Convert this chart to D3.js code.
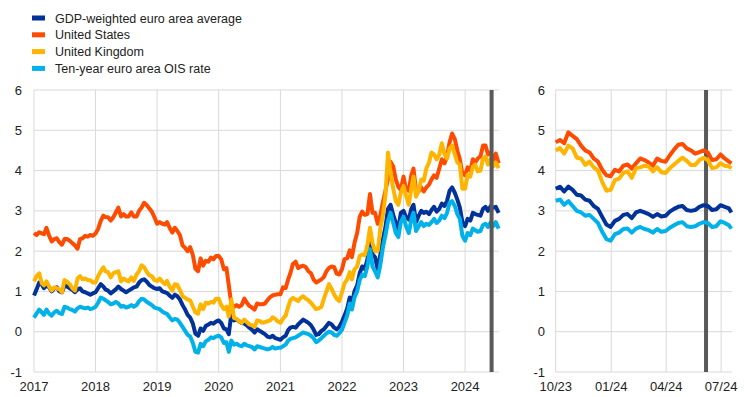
<!DOCTYPE html>
<html><head><meta charset="utf-8">
<script src="https://cdn.jsdelivr.net/npm/d3@7"></script>
<style>body{margin:0;background:#fff}svg{display:block}text{font-family:"Liberation Sans",Arial,sans-serif;fill:#222}</style>
</head><body><svg id="c" width="744" height="397"></svg>
<script>
// ---- DATA ----
const seriesNames = ["GDP-weighted euro area average","United States","United Kingdom","Ten-year euro area OIS rate"];
const seriesColors = ["#003299","#ff4b00","#ffb400","#00b1ea"];
const yTicks = [-1,0,1,2,3,4,5,6];
const leftTickLabels = ["2017","2018","2019","2020","2021","2022","2023","2024"];
const rightTickLabels = ["10/23","01/24","04/24","07/24"];
const markerDate = "2024-06-06";

// left panel: semi-monthly observations (1st and 16th of each month, 2017-01 .. 2024-06), then 2024-07-01 and 2024-07-18
const usLong = [
 2.45,2.40,2.47,2.44,2.42,2.58,2.38,2.24,2.30,2.32,2.22,2.16,2.30,2.30,2.26,2.20,2.14,2.06,2.30,2.32,2.38,2.36,2.40,2.38,
 2.44,2.55,2.75,2.88,2.85,2.84,2.76,2.84,2.96,3.08,2.86,2.92,2.86,2.86,2.96,2.86,2.86,3.00,3.08,3.20,3.14,3.06,2.98,2.84,
 2.68,2.72,2.68,2.66,2.72,2.58,2.46,2.58,2.50,2.40,2.14,2.08,2.00,2.10,1.90,1.56,1.50,1.82,1.64,1.76,1.74,1.84,1.80,1.88,
 1.88,1.80,1.55,1.58,1.15,0.68,0.62,0.66,0.62,0.66,0.82,0.72,0.64,0.60,0.55,0.70,0.68,0.68,0.70,0.78,0.86,0.90,0.92,0.93,
 0.93,1.10,1.08,1.30,1.45,1.68,1.74,1.58,1.62,1.64,1.60,1.50,1.45,1.30,1.22,1.26,1.30,1.36,1.50,1.58,1.62,1.60,1.44,1.42,
 1.55,1.80,1.82,2.02,1.85,2.20,2.45,2.85,2.98,2.90,2.92,3.42,2.95,2.95,2.68,2.88,3.22,3.50,3.80,4.22,4.10,3.78,3.60,3.52,
 3.85,3.52,3.50,3.88,4.05,3.50,3.48,3.58,3.48,3.58,3.65,3.78,3.88,3.82,4.05,4.28,4.18,4.35,4.70,4.92,4.78,4.50,4.28,3.92,
 3.88,4.08,4.00,4.28,4.20,4.30,4.35,4.62,4.62,4.40,4.45,4.25,4.42,4.18];
const ukLong = [
 1.25,1.38,1.45,1.20,1.15,1.25,1.12,1.02,1.10,1.08,1.05,0.98,1.28,1.24,1.18,1.08,1.02,1.32,1.38,1.30,1.32,1.28,1.28,1.22,
 1.22,1.38,1.50,1.60,1.50,1.48,1.35,1.45,1.48,1.50,1.25,1.32,1.28,1.25,1.35,1.26,1.42,1.50,1.65,1.60,1.48,1.40,1.38,1.28,
 1.26,1.32,1.24,1.18,1.26,1.12,1.02,1.18,1.16,1.04,0.88,0.84,0.80,0.78,0.62,0.48,0.45,0.68,0.56,0.72,0.70,0.74,0.72,0.82,
 0.82,0.66,0.56,0.62,0.38,0.80,0.34,0.32,0.26,0.22,0.30,0.24,0.18,0.16,0.12,0.28,0.26,0.22,0.24,0.26,0.28,0.36,0.32,0.26,
 0.22,0.32,0.40,0.62,0.78,0.84,0.80,0.76,0.84,0.88,0.82,0.78,0.72,0.64,0.56,0.58,0.62,0.82,1.00,1.18,1.06,0.92,0.82,0.76,
 0.98,1.20,1.30,1.48,1.30,1.55,1.62,1.88,1.92,1.90,2.15,2.58,2.20,2.00,2.00,2.55,2.90,3.40,4.45,3.95,3.55,3.25,3.15,3.45,
 3.62,3.38,3.15,3.55,3.85,3.35,3.50,3.78,3.75,4.05,4.20,4.45,4.40,4.28,4.40,4.68,4.40,4.30,4.55,4.62,4.40,4.20,4.15,3.55,
 3.55,3.90,3.85,4.10,4.15,3.98,4.00,4.30,4.35,4.15,4.30,4.10,4.20,4.06];
const eaLong = [
 0.90,1.05,1.22,1.18,1.08,1.15,1.10,1.00,1.08,1.10,1.00,0.98,1.15,1.12,1.08,1.04,0.98,1.05,1.08,1.00,0.98,0.95,0.92,0.95,
 0.98,1.08,1.18,1.12,1.05,1.02,0.95,1.00,1.05,1.12,1.06,1.02,0.98,1.02,1.06,1.10,1.12,1.22,1.28,1.30,1.24,1.16,1.12,1.08,
 1.06,1.08,1.00,0.98,0.96,0.90,0.84,0.92,0.88,0.80,0.66,0.55,0.42,0.35,0.20,-0.05,-0.10,0.08,0.02,0.14,0.18,0.22,0.20,0.25,
 0.28,0.22,0.08,0.06,-0.06,0.45,0.28,0.30,0.26,0.22,0.20,0.16,0.10,0.05,-0.02,0.06,0.02,-0.02,-0.06,-0.12,-0.14,-0.10,-0.16,-0.18,
 -0.20,-0.14,-0.10,0.04,0.10,0.12,0.10,0.18,0.24,0.30,0.26,0.22,0.16,0.06,-0.08,-0.06,0.02,0.06,0.14,0.22,0.18,0.10,0.06,0.12,
 0.25,0.40,0.58,0.85,0.70,1.00,1.15,1.45,1.62,1.55,1.80,2.35,1.92,1.85,1.55,1.90,2.30,2.60,3.05,3.15,2.90,2.70,2.55,2.95,
 3.00,2.85,2.78,3.05,3.15,2.72,2.88,3.00,2.95,2.98,2.92,3.02,3.10,2.98,3.05,3.18,3.12,3.25,3.50,3.58,3.45,3.28,3.08,2.72,
 2.62,2.80,2.76,2.95,2.92,2.90,2.88,3.05,3.10,3.00,3.12,3.08,3.10,2.95];
const oisLong = [
 0.35,0.45,0.55,0.48,0.42,0.55,0.45,0.40,0.48,0.52,0.46,0.44,0.62,0.60,0.56,0.54,0.50,0.58,0.62,0.60,0.58,0.60,0.56,0.58,
 0.62,0.72,0.85,0.82,0.78,0.74,0.68,0.70,0.74,0.70,0.62,0.64,0.60,0.62,0.66,0.62,0.66,0.76,0.82,0.80,0.74,0.70,0.66,0.60,
 0.58,0.56,0.50,0.46,0.44,0.36,0.28,0.32,0.30,0.22,0.12,0.02,-0.08,-0.12,-0.28,-0.50,-0.52,-0.30,-0.36,-0.24,-0.20,-0.14,-0.16,-0.12,
 -0.10,-0.14,-0.28,-0.26,-0.50,-0.22,-0.32,-0.30,-0.34,-0.36,-0.30,-0.34,-0.36,-0.38,-0.44,-0.36,-0.38,-0.40,-0.42,-0.44,-0.42,-0.38,-0.42,-0.40,
 -0.40,-0.36,-0.32,-0.22,-0.18,-0.16,-0.14,-0.10,-0.06,-0.02,-0.04,-0.06,-0.10,-0.16,-0.26,-0.22,-0.16,-0.10,-0.04,0.00,-0.02,-0.08,-0.10,-0.04,
 0.05,0.22,0.40,0.70,0.55,0.85,1.00,1.28,1.42,1.38,1.62,2.05,1.62,1.50,1.35,1.65,2.10,2.40,2.75,2.95,2.70,2.45,2.35,2.72,
 2.85,2.62,2.45,2.78,2.95,2.50,2.62,2.72,2.62,2.68,2.65,2.72,2.80,2.70,2.76,2.88,2.82,2.95,3.20,3.24,3.12,2.92,2.80,2.38,
 2.26,2.45,2.40,2.56,2.52,2.48,2.50,2.65,2.68,2.60,2.72,2.62,2.72,2.56];

// right panel: weekly observations from 2023-10-01 to 2024-07-14, then 2024-07-18
const eaShort  = [3.55,3.60,3.48,3.60,3.52,3.40,3.38,3.28,3.25,3.12,3.05,2.85,2.66,2.60,2.75,2.80,2.90,2.92,2.82,2.96,3.00,2.96,2.92,2.85,2.92,2.86,2.88,2.98,3.05,3.10,3.12,3.02,3.00,3.02,3.10,3.14,3.12,3.02,3.04,3.14,3.10,3.06,2.96];
const usShort  = [4.70,4.76,4.68,4.95,4.86,4.78,4.62,4.50,4.45,4.30,4.22,4.02,3.88,3.86,4.02,3.98,4.12,4.15,4.05,4.18,4.30,4.26,4.20,4.12,4.30,4.24,4.22,4.38,4.52,4.64,4.66,4.55,4.50,4.42,4.46,4.50,4.45,4.26,4.28,4.40,4.30,4.22,4.18];
const ukShort  = [4.50,4.56,4.42,4.62,4.55,4.32,4.30,4.14,4.22,4.08,4.00,3.72,3.50,3.52,3.76,3.80,3.94,3.98,3.82,4.06,4.08,4.12,4.10,3.98,4.08,3.96,3.94,4.06,4.15,4.24,4.32,4.24,4.14,4.14,4.26,4.32,4.26,4.06,4.08,4.18,4.12,4.10,4.06];
const oisShort = [3.25,3.28,3.15,3.24,3.12,3.00,2.96,2.88,2.90,2.80,2.70,2.48,2.30,2.26,2.42,2.46,2.55,2.56,2.46,2.56,2.60,2.55,2.52,2.46,2.55,2.48,2.50,2.58,2.64,2.70,2.72,2.62,2.60,2.62,2.68,2.72,2.70,2.60,2.62,2.74,2.70,2.64,2.56];

// ---- DATES ----
const P = d3.timeParse("%Y-%m-%d");
const longDates = [];
d3.timeMonth.range(P("2017-01-01"), P("2024-07-01")).forEach(m => { longDates.push(m); longDates.push(d3.timeDay.offset(m, 15)); });
longDates.push(P("2024-07-01"), P("2024-07-18"));
const shortDates = d3.timeWeek.range(P("2023-10-01"), P("2024-07-15"));
shortDates.push(P("2024-07-18"));

const longSeries = [eaLong, usLong, ukLong, oisLong];
const shortSeries = [eaShort, usShort, ukShort, oisShort];
const drawOrder = [1, 0, 3, 2];

// ---- CHART ----
const svg = d3.select("#c");
const y = d3.scaleLinear().domain([-1, 6]).range([372, 90]);
const grid = "#d9d9d9";
const lw = 4;

function panel(x, dates, series, ticks, labels, markerOnTop, labelX) {
  const g = svg.append("g");
  const [x0, x1] = x.range();
  g.selectAll(".hg").data(yTicks).join("line")
    .attr("x1", x0).attr("x2", x1).attr("y1", d => y(d)).attr("y2", d => y(d))
    .attr("stroke", grid).attr("stroke-width", 1);
  g.selectAll(".vg").data(ticks).join("line")
    .attr("x1", d => x(d)).attr("x2", d => x(d)).attr("y1", y(6)).attr("y2", y(-1))
    .attr("stroke", grid).attr("stroke-width", 1);
  g.selectAll(".yl").data(yTicks).join("text")
    .attr("x", labelX).attr("y", d => y(d) + 4.5).attr("text-anchor", "end")
    .attr("font-size", 13).text(d => d);
  g.selectAll(".xl").data(ticks).join("text")
    .attr("x", d => x(d)).attr("y", 391).attr("text-anchor", "middle")
    .attr("font-size", 13).text((d, i) => labels[i]);
  const md = P(markerDate);
  const drawMarker = () => g.append("line").attr("x1", x(md)).attr("x2", x(md))
    .attr("y1", y(6)).attr("y2", y(-1)).attr("stroke", "#595959").attr("stroke-width", 4);
  if (!markerOnTop) drawMarker();
  drawOrder.forEach(si => {
    const line = d3.line().x((d, i) => x(dates[i])).y(d => y(d)).curve(d3.curveLinear);
    g.append("path").datum(series[si]).attr("d", line).attr("fill", "none")
      .attr("stroke", seriesColors[si]).attr("stroke-width", lw).attr("stroke-linejoin", "round");
  });
  if (markerOnTop) drawMarker();
}

const xL = d3.scaleTime().domain([P("2017-01-01"), P("2024-07-20")]).range([34, 499]);
panel(xL, longDates, longSeries, leftTickLabels.map(t => P(t + "-01-01")), leftTickLabels, true, 22);

const xR = d3.scaleTime().domain([P("2023-10-01"), P("2024-07-19")]).range([555.7, 732]);
panel(xR, shortDates, shortSeries, ["2023-10-01","2024-01-01","2024-04-01","2024-07-01"].map(P), rightTickLabels, false, 545);

// legend
const lg = svg.append("g");
seriesNames.forEach((n, i) => {
  const yy = 18 + i * 16.8;
  lg.append("rect").attr("x", 32).attr("y", yy - 2.5).attr("width", 13).attr("height", 5).attr("fill", seriesColors[i]);
  lg.append("text").attr("x", 55).attr("y", yy + 4.5).attr("font-size", 12.5).text(n);
});
</script></body></html>
